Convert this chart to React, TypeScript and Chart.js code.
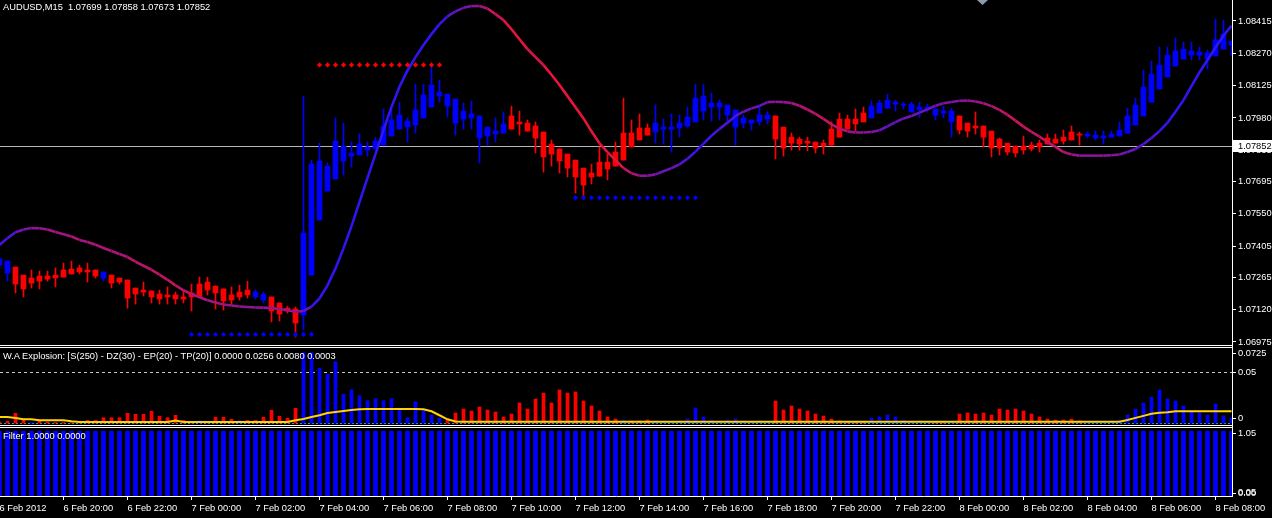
import React, { useEffect, useRef } from 'react';
import { Chart, registerables } from 'chart.js';

Chart.register(...registerables);

const FONT_FAMILY = '"Liberation Sans", Arial, sans-serif';
const FONT_SIZE = 9.3;

const symbolHeader = 'AUDUSD,M15  1.07699 1.07858 1.07673 1.07852';
const explosionHeader = 'W.A Explosion: [S(250) - DZ(30) - EP(20) - TP(20)] 0.0000 0.0256 0.0080 0.0003';
const filterHeader = 'Filter 1.0000 0.0000';

// ---- candles (bar 0 = 6 Feb 18:00, M15) ----
const openP = [
  1.07320, 1.07284, 1.07311, 1.07275, 1.07262, 1.07271, 1.07271, 1.07275, 1.07298, 1.07302,
  1.07307, 1.07298, 1.07298, 1.07262, 1.07275, 1.07262, 1.07253, 1.07217, 1.07208, 1.07204,
  1.07190, 1.07186, 1.07186, 1.07177, 1.07195, 1.07235, 1.07244, 1.07226, 1.07213, 1.07186,
  1.07199, 1.07208, 1.07177, 1.07163, 1.07177, 1.07150, 1.07127, 1.07123, 1.07096, 1.07275,
  1.07522, 1.07652, 1.07706, 1.07787, 1.07809, 1.07814, 1.07836, 1.07841, 1.07858, 1.07899,
  1.07930, 1.07939, 1.07948, 1.07980, 1.08029, 1.08078, 1.08033, 1.07957, 1.07975, 1.07980,
  1.07890, 1.07899, 1.07908, 1.07912, 1.07989, 1.07962, 1.07957, 1.07944, 1.07917, 1.07863,
  1.07841, 1.07818, 1.07791, 1.07755, 1.07733, 1.07782, 1.07782, 1.07827, 1.07912, 1.07912,
  1.07935, 1.07935, 1.07917, 1.07930, 1.07930, 1.07935, 1.07944, 1.07962, 1.08011, 1.08029,
  1.08029, 1.07993, 1.07939, 1.07957, 1.07957, 1.07962, 1.07975, 1.07989, 1.07939, 1.07894,
  1.07885, 1.07876, 1.07872, 1.07867, 1.07930, 1.07975, 1.07975, 1.07975, 1.08002, 1.07980,
  1.08002, 1.08024, 1.08042, 1.08038, 1.08007, 1.08016, 1.08024, 1.07993, 1.08002, 1.07962,
  1.07989, 1.07957, 1.07944, 1.07944, 1.07921, 1.07885, 1.07867, 1.07854, 1.07854, 1.07858,
  1.07867, 1.07890, 1.07885, 1.07894, 1.07917, 1.07908, 1.07899, 1.07890, 1.07890, 1.07894,
  1.07899, 1.07912, 1.07948, 1.07989, 1.08051, 1.08110, 1.08164, 1.08213, 1.08244, 1.08262,
  1.08262, 1.08244, 1.08258, 1.08289, 1.08307,
];
const highP = [
  1.07356, 1.07338, 1.07311, 1.07275, 1.07298, 1.07293, 1.07293, 1.07307, 1.07329, 1.07338,
  1.07320, 1.07329, 1.07298, 1.07289, 1.07275, 1.07262, 1.07253, 1.07217, 1.07244, 1.07204,
  1.07208, 1.07222, 1.07199, 1.07204, 1.07235, 1.07266, 1.07266, 1.07226, 1.07213, 1.07222,
  1.07230, 1.07248, 1.07208, 1.07199, 1.07177, 1.07150, 1.07136, 1.07132, 1.08078, 1.07791,
  1.07867, 1.07778, 1.07980, 1.07957, 1.07872, 1.07908, 1.07872, 1.07894, 1.08020, 1.08020,
  1.08051, 1.07980, 1.08132, 1.08132, 1.08217, 1.08150, 1.08087, 1.08065, 1.08047, 1.08056,
  1.07989, 1.07939, 1.07980, 1.08007, 1.08033, 1.08011, 1.07971, 1.07962, 1.07917, 1.07881,
  1.07841, 1.07818, 1.07791, 1.07755, 1.07773, 1.07850, 1.07818, 1.07872, 1.08069, 1.07971,
  1.07998, 1.07953, 1.08038, 1.07975, 1.07998, 1.07993, 1.08029, 1.08132, 1.08132, 1.08092,
  1.08060, 1.08038, 1.08016, 1.07993, 1.07971, 1.08029, 1.08007, 1.07989, 1.07939, 1.07912,
  1.07894, 1.07894, 1.07872, 1.07881, 1.07962, 1.08002, 1.07993, 1.08020, 1.08029, 1.08056,
  1.08060, 1.08087, 1.08060, 1.08051, 1.08051, 1.08051, 1.08042, 1.08020, 1.08033, 1.08024,
  1.07989, 1.07957, 1.08007, 1.07944, 1.07921, 1.07890, 1.07867, 1.07854, 1.07899, 1.07872,
  1.07881, 1.07908, 1.07908, 1.07926, 1.07944, 1.07917, 1.07917, 1.07921, 1.07921, 1.07921,
  1.07962, 1.08024, 1.08069, 1.08195, 1.08235, 1.08298, 1.08298, 1.08339, 1.08321, 1.08321,
  1.08298, 1.08285, 1.08424, 1.08419, 1.08325,
];
const lowP = [
  1.07307, 1.07248, 1.07195, 1.07177, 1.07217, 1.07213, 1.07248, 1.07222, 1.07266, 1.07280,
  1.07280, 1.07244, 1.07262, 1.07248, 1.07217, 1.07235, 1.07127, 1.07145, 1.07181, 1.07150,
  1.07145, 1.07145, 1.07145, 1.07150, 1.07114, 1.07177, 1.07186, 1.07123, 1.07118, 1.07141,
  1.07163, 1.07172, 1.07168, 1.07150, 1.07065, 1.07069, 1.07105, 1.06997, 1.07029, 1.07275,
  1.07522, 1.07652, 1.07706, 1.07724, 1.07760, 1.07814, 1.07809, 1.07841, 1.07858, 1.07899,
  1.07930, 1.07872, 1.07912, 1.07980, 1.08029, 1.08051, 1.07984, 1.07903, 1.07930, 1.07930,
  1.07778, 1.07858, 1.07872, 1.07912, 1.07930, 1.07903, 1.07921, 1.07823, 1.07737, 1.07764,
  1.07733, 1.07715, 1.07643, 1.07616, 1.07684, 1.07719, 1.07702, 1.07764, 1.07791, 1.07850,
  1.07881, 1.07903, 1.07867, 1.07863, 1.07827, 1.07894, 1.07939, 1.07962, 1.07971, 1.07966,
  1.07971, 1.07953, 1.07858, 1.07935, 1.07926, 1.07948, 1.07953, 1.07796, 1.07809, 1.07836,
  1.07836, 1.07832, 1.07823, 1.07818, 1.07858, 1.07894, 1.07930, 1.07921, 1.07962, 1.07980,
  1.08002, 1.08024, 1.08011, 1.08020, 1.08007, 1.07984, 1.08007, 1.07971, 1.07980, 1.07894,
  1.07908, 1.07894, 1.07908, 1.07850, 1.07805, 1.07814, 1.07814, 1.07805, 1.07818, 1.07832,
  1.07827, 1.07863, 1.07867, 1.07863, 1.07881, 1.07858, 1.07890, 1.07881, 1.07863, 1.07894,
  1.07899, 1.07912, 1.07948, 1.07989, 1.08051, 1.08110, 1.08164, 1.08213, 1.08244, 1.08240,
  1.08240, 1.08199, 1.08258, 1.08289, 1.08262,
];
const closeP = [
  1.07347, 1.07338, 1.07235, 1.07213, 1.07239, 1.07248, 1.07257, 1.07262, 1.07266, 1.07280,
  1.07289, 1.07289, 1.07271, 1.07289, 1.07239, 1.07244, 1.07172, 1.07190, 1.07199, 1.07177,
  1.07168, 1.07177, 1.07168, 1.07168, 1.07177, 1.07177, 1.07208, 1.07195, 1.07159, 1.07163,
  1.07177, 1.07186, 1.07199, 1.07190, 1.07114, 1.07100, 1.07114, 1.07060, 1.07464, 1.07773,
  1.07787, 1.07764, 1.07876, 1.07854, 1.07823, 1.07863, 1.07850, 1.07876, 1.07944, 1.07971,
  1.07993, 1.07966, 1.08016, 1.08083, 1.08128, 1.08096, 1.08087, 1.08065, 1.08011, 1.07998,
  1.07989, 1.07939, 1.07921, 1.07953, 1.07930, 1.07953, 1.07921, 1.07890, 1.07805, 1.07818,
  1.07787, 1.07755, 1.07715, 1.07679, 1.07715, 1.07719, 1.07751, 1.07764, 1.07791, 1.07850,
  1.07881, 1.07903, 1.07957, 1.07939, 1.07939, 1.07957, 1.07984, 1.08069, 1.08078, 1.08047,
  1.08047, 1.08038, 1.08016, 1.07980, 1.07971, 1.07993, 1.07993, 1.07885, 1.07845, 1.07867,
  1.07863, 1.07867, 1.07845, 1.07854, 1.07858, 1.07894, 1.07930, 1.07953, 1.07962, 1.08033,
  1.08047, 1.08060, 1.08051, 1.08042, 1.08042, 1.08029, 1.08029, 1.08020, 1.08011, 1.08011,
  1.07926, 1.07921, 1.07935, 1.07894, 1.07845, 1.07845, 1.07827, 1.07823, 1.07836, 1.07841,
  1.07850, 1.07863, 1.07867, 1.07876, 1.07881, 1.07903, 1.07908, 1.07903, 1.07899, 1.07908,
  1.07926, 1.07989, 1.08038, 1.08119, 1.08177, 1.08217, 1.08262, 1.08280, 1.08289, 1.08280,
  1.08276, 1.08271, 1.08330, 1.08356, 1.08325,
];
const candleColor = [
  'b','b','r','r','r','r','r','r','r','r',
  'r','r','r','b','r','r','r','r','r','r',
  'r','r','r','r','r','r','r','r','r','r',
  'r','r','b','b','r','r','r','r','b','b',
  'b','b','b','b','b','b','b','b','b','b',
  'b','b','b','b','b','b','b','b','b','b',
  'b','b','b','b','r','r','r','r','r','r',
  'r','r','r','r','r','r','r','r','r','r',
  'r','r','b','b','b','b','b','b','b','b',
  'b','b','b','b','b','b','b','r','r','r',
  'r','r','r','r','r','r','r','r','r','b',
  'b','b','b','b','b','b','b','b','b','b',
  'r','r','r','r','r','r','r','r','r','r',
  'r','r','r','r','r','r','b','b','b','b',
  'b','b','b','b','b','b','b','b','b','b',
  'b','b','b','b','b',
];
// smoothed trend curve drawn over the candles
const trendLine = [
  1.07410, 1.07441, 1.07467, 1.07480, 1.07486, 1.07485, 1.07480, 1.07468, 1.07458, 1.07448,
  1.07433, 1.07424, 1.07411, 1.07397, 1.07383, 1.07370, 1.07356, 1.07335, 1.07317, 1.07299,
  1.07277, 1.07254, 1.07229, 1.07207, 1.07190, 1.07176, 1.07162, 1.07152, 1.07143, 1.07139,
  1.07134, 1.07132, 1.07130, 1.07129, 1.07127, 1.07123, 1.07117, 1.07111, 1.07114, 1.07134,
  1.07170, 1.07229, 1.07305, 1.07395, 1.07495, 1.07603, 1.07711, 1.07818, 1.07926, 1.08029,
  1.08120, 1.08193, 1.08253, 1.08307, 1.08356, 1.08401, 1.08436, 1.08458, 1.08474, 1.08482,
  1.08482, 1.08471, 1.08446, 1.08419, 1.08378, 1.08333, 1.08289, 1.08253, 1.08217, 1.08174,
  1.08128, 1.08078, 1.08028, 1.07978, 1.07920, 1.07866, 1.07827, 1.07791, 1.07755, 1.07732,
  1.07721, 1.07721, 1.07727, 1.07741, 1.07755, 1.07772, 1.07797, 1.07829, 1.07865, 1.07900,
  1.07931, 1.07959, 1.07989, 1.08008, 1.08023, 1.08034, 1.08051, 1.08053, 1.08051, 1.08047,
  1.08035, 1.08018, 1.07998, 1.07976, 1.07951, 1.07932, 1.07920, 1.07915, 1.07915, 1.07917,
  1.07925, 1.07942, 1.07961, 1.07978, 1.07989, 1.08004, 1.08019, 1.08035, 1.08046, 1.08052,
  1.08057, 1.08058, 1.08054, 1.08046, 1.08033, 1.08016, 1.07994, 1.07968, 1.07941, 1.07918,
  1.07896, 1.07872, 1.07850, 1.07827, 1.07816, 1.07811, 1.07811, 1.07811, 1.07811, 1.07813,
  1.07816, 1.07827, 1.07841, 1.07863, 1.07890, 1.07921, 1.07959, 1.08008, 1.08060, 1.08123,
  1.08185, 1.08240, 1.08296, 1.08350, 1.08393,
];

const priceTicks = [1.08415, 1.08270, 1.08125, 1.07980, 1.07835, 1.07695, 1.07550, 1.07405, 1.07265, 1.07120, 1.06975];
const currentPrice = 1.07852;

const resistanceLevel = 1.08218;
const resistanceBars = [40, 41, 42, 43, 44, 45, 46, 47, 48, 49, 50, 51, 52, 53, 54, 55];
const supportLevelA = 1.07009;
const supportBarsA = [24, 25, 26, 27, 28, 29, 30, 31, 32, 33, 34, 35, 36, 37, 38, 39];
const supportLevelB = 1.07622;
const supportBarsB = [72, 73, 74, 75, 76, 77, 78, 79, 80, 81, 82, 83, 84, 85, 86, 87];

// ---- W.A Explosion ----
const explosionHist = [
  0.0010, 0.0017, 0.0095, 0.0026, 0.0005, 0.0020, 0.0010, 0.0005, 0.0005, 0.0003,
  0.0005, 0.0026, 0.0026, 0.0052, 0.0052, 0.0052, 0.0095, 0.0085, 0.0085, 0.0115,
  0.0066, 0.0052, 0.0075, 0.0026, 0.0010, 0.0026, 0.0005, 0.0056, 0.0056, 0.0036,
  0.0026, 0.0026, 0.0026, 0.0056, 0.0125, 0.0066, 0.0046, 0.0144, 0.0690, 0.0690,
  0.0536, 0.0477, 0.0601, 0.0281, 0.0326, 0.0268, 0.0219, 0.0238, 0.0219, 0.0238,
  0.0147, 0.0052, 0.0209, 0.0118, 0.0078, 0.0049, 0.0029, 0.0098, 0.0137, 0.0118,
  0.0157, 0.0127, 0.0108, 0.0059, 0.0088, 0.0196, 0.0137, 0.0235, 0.0294, 0.0196,
  0.0324, 0.0294, 0.0304, 0.0216, 0.0167, 0.0118, 0.0059, 0.0039, 0.0029, 0.0020,
  0.0020, 0.0029, 0.0020, 0.0010, 0.0010, 0.0020, 0.0039, 0.0147, 0.0059, 0.0029,
  0.0020, 0.0029, 0.0039, 0.0020, 0.0010, 0.0020, 0.0010, 0.0216, 0.0127, 0.0167,
  0.0137, 0.0118, 0.0088, 0.0069, 0.0039, 0.0020, 0.0010, 0.0010, 0.0010, 0.0049,
  0.0059, 0.0078, 0.0059, 0.0029, 0.0020, 0.0020, 0.0010, 0.0010, 0.0010, 0.0010,
  0.0088, 0.0098, 0.0088, 0.0098, 0.0078, 0.0137, 0.0127, 0.0137, 0.0118, 0.0088,
  0.0059, 0.0039, 0.0029, 0.0029, 0.0039, 0.0020, 0.0010, 0.0010, 0.0010, 0.0020,
  0.0029, 0.0078, 0.0137, 0.0196, 0.0255, 0.0324, 0.0235, 0.0216, 0.0167, 0.0118,
  0.0098, 0.0078, 0.0186, 0.0069, 0.0049,
];
const explosionColor = [
  'r','r','r','r','b','r','r','r','r','r',
  'r','r','r','r','r','r','r','r','r','r',
  'r','r','r','r','r','b','r','r','r','r',
  'b','r','r','r','r','r','r','r','b','b',
  'b','b','b','b','b','b','b','b','b','b',
  'b','b','b','b','b','b','r','r','r','r',
  'r','r','r','r','r','r','r','r','r','r',
  'r','r','r','r','r','r','r','r','b','r',
  'r','r','b','b','b','b','b','b','b','b',
  'b','b','b','b','b','b','b','r','r','r',
  'r','r','r','r','r','r','r','r','r','b',
  'b','b','b','b','b','b','b','r','r','b',
  'r','r','r','r','r','r','r','r','r','r',
  'r','r','r','r','r','r','b','b','b','b',
  'b','b','b','b','b','b','b','b','b','b',
  'b','b','b','b','b',
];
const explosionLine = [
  0.0059, 0.0059, 0.0049, 0.0036, 0.0036, 0.0027, 0.0027, 0.0027, 0.0027, 0.0017,
  0.0010, 0.0010, 0.0010, 0.0010, 0.0010, 0.0010, 0.0010, 0.0010, 0.0010, 0.0010,
  0.0010, 0.0010, 0.0024, 0.0010, 0.0010, 0.0010, 0.0010, 0.0010, 0.0010, 0.0010,
  0.0010, 0.0010, 0.0010, 0.0010, 0.0010, 0.0010, 0.0010, 0.0027, 0.0039, 0.0059,
  0.0076, 0.0098, 0.0108, 0.0118, 0.0128, 0.0134, 0.0137, 0.0137, 0.0137, 0.0137,
  0.0137, 0.0137, 0.0137, 0.0135, 0.0115, 0.0076, 0.0036, 0.0015, 0.0012, 0.0012,
  0.0012, 0.0012, 0.0012, 0.0012, 0.0012, 0.0012, 0.0012, 0.0012, 0.0012, 0.0012,
  0.0012, 0.0012, 0.0012, 0.0012, 0.0012, 0.0012, 0.0012, 0.0012, 0.0012, 0.0012,
  0.0012, 0.0012, 0.0012, 0.0012, 0.0012, 0.0012, 0.0012, 0.0012, 0.0012, 0.0012,
  0.0012, 0.0012, 0.0012, 0.0012, 0.0012, 0.0012, 0.0012, 0.0012, 0.0012, 0.0012,
  0.0012, 0.0012, 0.0012, 0.0012, 0.0012, 0.0012, 0.0012, 0.0012, 0.0012, 0.0012,
  0.0012, 0.0012, 0.0012, 0.0012, 0.0012, 0.0012, 0.0012, 0.0012, 0.0012, 0.0012,
  0.0012, 0.0012, 0.0012, 0.0012, 0.0012, 0.0012, 0.0012, 0.0012, 0.0012, 0.0012,
  0.0012, 0.0012, 0.0012, 0.0012, 0.0012, 0.0012, 0.0012, 0.0012, 0.0012, 0.0012,
  0.0012, 0.0030, 0.0050, 0.0070, 0.0090, 0.0100, 0.0105, 0.0115, 0.0115, 0.0115,
  0.0115, 0.0115, 0.0115, 0.0115, 0.0115,
];
const explosionLevel = 0.05;
const deadZoneLevel = 0.0003;
const explosionTicks = [0.0725, 0.05, 0];
const explosionTickLabels = ['0.0725', '0.05', '0'];

// ---- Filter ----
const filterValues = [
  1, 1, 1, 1, 1, 1, 1, 1, 1, 1, 1, 1, 1, 1, 1, 1, 1, 1, 1, 1,
  1, 1, 1, 1, 1, 1, 1, 1, 1, 1, 1, 1, 1, 1, 1, 1, 1, 1, 1, 1,
  1, 1, 1, 1, 1, 1, 1, 1, 1, 1, 1, 1, 1, 1, 1, 1, 1, 1, 1, 1,
  1, 1, 1, 1, 1, 1, 1, 1, 1, 1, 1, 1, 1, 1, 1, 1, 1, 1, 1, 1,
  1, 1, 1, 1, 1, 1, 1, 1, 1, 1, 1, 1, 1, 1, 1, 1, 1, 1, 1, 1,
  1, 1, 1, 1, 1, 1, 1, 1, 1, 1, 1, 1, 1, 1, 1, 1, 1, 1, 1, 1,
  1, 1, 1, 1, 1, 1, 1, 1, 1, 1, 1, 1, 1, 1, 1, 1, 1, 1, 1, 1,
  1, 1, 1, 1, 1, 1, 1, 1, 1, 1, 1, 1, 1, 1, 1,
];
const filterTicks = [1.05, 0.05, 0];
const filterTickLabels = ['1.05', '0.05', '0.00'];

// ---- time axis ----
const timeLabels = [
  '6 Feb 2012', '6 Feb 20:00', '6 Feb 22:00', '7 Feb 00:00', '7 Feb 02:00', '7 Feb 04:00',
  '7 Feb 06:00', '7 Feb 08:00', '7 Feb 10:00', '7 Feb 12:00', '7 Feb 14:00', '7 Feb 16:00',
  '7 Feb 18:00', '7 Feb 20:00', '7 Feb 22:00', '8 Feb 00:00', '8 Feb 02:00', '8 Feb 04:00',
  '8 Feb 06:00', '8 Feb 08:00',
];
const timeLabelBars = [0, 8, 16, 24, 32, 40, 48, 56, 64, 72, 80, 88, 96, 104, 112, 120, 128, 136, 144, 152];

// ---- layout constants ----
const W = 1272;
const AXIS_W = 40;
const X_MIN = 0.0625;
const X_MAX = 154.0625;
const MAIN_H = 345;
const MAIN_Y_MIN = 1.069615;
const MAIN_Y_MAX = 1.085092;
const IND_TOP = 348;
const IND_H = 77;
const IND_MIN = -0.00196;
const IND_MAX = 0.07353;
const FIL_TOP = 428;
const FIL_H = 90;
const XAXIS_H = 22;

const RED = '#ff0000';
const BLUE = '#0000ff';
const colorOf = (c: string) => (c === 'r' ? RED : BLUE);
const fontStr = `${FONT_SIZE}px ${FONT_FAMILY}`;

const FALL = [232, 20, 60];
const RISE = [48, 20, 242];
const slopeColor = (ctx: any) => {
  const d = ctx.p1.parsed.y - ctx.p0.parsed.y;
  const t = Math.max(0, Math.min(1, 0.5 + d / 0.0008));
  const c = FALL.map((f, j) => Math.round(f + (RISE[j] - f) * t));
  return `rgb(${c[0]},${c[1]},${c[2]})`;
};

const noPad = (s: any) => {
  s.paddingTop = 0;
  s.paddingBottom = 0;
  s.paddingLeft = 0;
  s.paddingRight = 0;
};

const hiddenX = {
  type: 'linear' as const,
  min: X_MIN,
  max: X_MAX,
  display: false,
  offset: false,
  grid: { offset: false },
};

const rightAxis = (min: number, max: number) => ({
  type: 'linear' as const,
  position: 'right' as const,
  min,
  max,
  beginAtZero: false,
  afterFit: (s: any) => { s.width = AXIS_W; noPad(s); },
  ticks: { display: false },
  grid: { display: false, drawOnChartArea: false },
  border: { display: true, color: '#ffffff', width: 1 },
});

const axisLabelPlugin = (values: number[], labels: string[], topPad: number, botPad: number) => ({
  id: 'axisLabelPlugin',
  afterDraw(chart: any) {
    const { ctx, chartArea, scales } = chart;
    const y = scales.y;
    ctx.save();
    ctx.font = fontStr;
    ctx.fillStyle = '#ffffff';
    ctx.textBaseline = 'middle';
    ctx.textAlign = 'left';
    values.forEach((v, i) => {
      const raw = y.getPixelForValue(v);
      const p = Math.min(Math.max(raw, chartArea.top + topPad), chartArea.bottom - botPad);
      ctx.fillRect(chartArea.right, Math.round(p), 4, 1);
      ctx.fillText(labels[i], chartArea.right + 6, p);
    });
    ctx.restore();
  },
});

export default function App() {
  const mainRef = useRef<HTMLCanvasElement>(null);
  const indRef = useRef<HTMLCanvasElement>(null);
  const filRef = useRef<HTMLCanvasElement>(null);

  useEffect(() => {
    Chart.defaults.font.family = FONT_FAMILY;
    Chart.defaults.font.size = FONT_SIZE;
    const common = {
      responsive: false,
      animation: false as const,
      devicePixelRatio: 1,
      layout: { padding: 0, autoPadding: false },
      events: [],
      plugins: { legend: { display: false }, tooltip: { enabled: false }, title: { display: false } },
    };

    const mainOverlay = {
      id: 'mainOverlay',
      beforeDatasetsDraw(chart: any) {
        const { ctx, chartArea, scales } = chart;
        const py = Math.round(scales.y.getPixelForValue(currentPrice)) + 0.5;
        ctx.save();
        ctx.strokeStyle = '#b4b4c0';
        ctx.lineWidth = 1;
        ctx.beginPath();
        ctx.moveTo(chartArea.left, py);
        ctx.lineTo(chartArea.right, py);
        ctx.stroke();
        ctx.restore();
      },
      afterDraw(chart: any) {
        const { ctx, chartArea, scales } = chart;
        const py = scales.y.getPixelForValue(currentPrice);
        ctx.save();
        ctx.fillStyle = '#ffffff';
        ctx.fillRect(chartArea.right + 1, Math.round(py) - 6, AXIS_W - 1, 12);
        ctx.fillStyle = '#000000';
        ctx.font = fontStr;
        ctx.textBaseline = 'middle';
        ctx.textAlign = 'left';
        ctx.fillText(currentPrice.toFixed(5), chartArea.right + 6, Math.round(py) + 0.5);
        ctx.fillStyle = '#8c9cac';
        ctx.beginPath();
        ctx.moveTo(977, 0);
        ctx.lineTo(988, 0);
        ctx.lineTo(982.5, 5);
        ctx.closePath();
        ctx.fill();
        ctx.restore();
      },
    };

    const dots = (bars: number[], level: number, color: string) => ({
      type: 'line' as const,
      data: bars.map((i) => ({ x: i, y: level })),
      showLine: false,
      pointStyle: 'rectRot',
      pointRadius: 2.6,
      pointHoverRadius: 2.6,
      pointBackgroundColor: color,
      pointBorderWidth: 0,
      order: 0,
    });

    const mainChart = new Chart(mainRef.current as HTMLCanvasElement, {
      type: 'bar',
      data: {
        datasets: [
          {
            type: 'line',
            data: trendLine.map((y, i) => ({ x: i, y })),
            borderWidth: 2.6,
            pointRadius: 0,
            pointHoverRadius: 0,
            borderColor: '#8020a0',
            segment: { borderColor: slopeColor },
            order: 1,
          } as any,
          {
            type: 'bar',
            data: lowP.map((l, i) => ({ x: i, y: [l, highP[i]] })),
            backgroundColor: candleColor.map(colorOf),
            barThickness: 1,
            grouped: false,
            order: 3,
          } as any,
          {
            type: 'bar',
            data: openP.map((o, i) => ({ x: i, y: [o, closeP[i]] })),
            backgroundColor: candleColor.map(colorOf),
            barThickness: 5,
            minBarLength: 1,
            grouped: false,
            order: 2,
          } as any,
          dots(resistanceBars, resistanceLevel, RED) as any,
          dots(supportBarsA, supportLevelA, BLUE) as any,
          dots(supportBarsB, supportLevelB, BLUE) as any,
        ],
      },
      options: {
        ...common,
        scales: {
          x: hiddenX,
          y: {
            type: 'linear',
            position: 'right',
            min: MAIN_Y_MIN,
            max: MAIN_Y_MAX,
            beginAtZero: false,
            afterFit: (s: any) => { s.width = AXIS_W; noPad(s); },
            afterBuildTicks: (s: any) => { s.ticks = priceTicks.map((v) => ({ value: v })); },
            ticks: {
              autoSkip: false,
              color: '#ffffff',
              padding: 2,
              font: { family: FONT_FAMILY, size: FONT_SIZE },
              callback: (v: any) => Number(v).toFixed(5),
            },
            grid: { drawOnChartArea: false, drawTicks: true, tickLength: 4, color: '#ffffff' },
            border: { display: true, color: '#ffffff', width: 1 },
          },
        },
      } as any,
      plugins: [mainOverlay],
    });

    const indLevels = {
      id: 'indLevels',
      beforeDatasetsDraw(chart: any) {
        const { ctx, chartArea, scales } = chart;
        ctx.save();
        ctx.lineWidth = 1;
        const p1 = Math.round(scales.y.getPixelForValue(explosionLevel)) + 0.5;
        ctx.strokeStyle = '#c8c8c8';
        ctx.setLineDash([3, 3]);
        ctx.beginPath();
        ctx.moveTo(chartArea.left, p1);
        ctx.lineTo(chartArea.right, p1);
        ctx.stroke();
        const p2 = Math.round(scales.y.getPixelForValue(deadZoneLevel)) + 0.5;
        ctx.strokeStyle = '#1aa8a8';
        ctx.setLineDash([2, 2]);
        ctx.beginPath();
        ctx.moveTo(chartArea.left, p2);
        ctx.lineTo(chartArea.right, p2);
        ctx.stroke();
        ctx.restore();
      },
    };

    const indChart = new Chart(indRef.current as HTMLCanvasElement, {
      type: 'bar',
      data: {
        datasets: [
          {
            type: 'bar',
            data: explosionHist.map((v, i) => ({ x: i, y: v })),
            backgroundColor: explosionColor.map(colorOf),
            barThickness: 3,
            grouped: false,
            order: 2,
          } as any,
          {
            type: 'line',
            data: explosionLine.map((v, i) => ({ x: i, y: v })),
            borderColor: '#ffd400',
            borderWidth: 2,
            pointRadius: 0,
            pointHoverRadius: 0,
            order: 1,
          } as any,
        ],
      },
      options: {
        ...common,
        scales: { x: hiddenX, y: rightAxis(IND_MIN, IND_MAX) },
      } as any,
      plugins: [indLevels, axisLabelPlugin(explosionTicks, explosionTickLabels, 5, 7)],
    });

    const labelMap = new Map<number, string>();
    timeLabelBars.forEach((b, i) => labelMap.set(b, timeLabels[i]));

    const filChart = new Chart(filRef.current as HTMLCanvasElement, {
      type: 'bar',
      data: {
        datasets: [
          {
            type: 'bar',
            data: filterValues.map((v, i) => ({ x: i, y: v })),
            backgroundColor: BLUE,
            barThickness: 4,
            grouped: false,
          } as any,
        ],
      },
      options: {
        ...common,
        scales: {
          x: {
            type: 'linear',
            position: 'bottom',
            min: X_MIN,
            max: X_MAX,
            offset: false,
            afterFit: (s: any) => { s.height = XAXIS_H; noPad(s); },
            afterBuildTicks: (s: any) => { s.ticks = timeLabelBars.map((v) => ({ value: v })); },
            ticks: {
              autoSkip: false,
              maxRotation: 0,
              minRotation: 0,
              align: 'start',
              color: '#ffffff',
              padding: 3,
              font: { family: FONT_FAMILY, size: FONT_SIZE },
              callback: (v: any) => labelMap.get(Number(v)) ?? '',
            },
            grid: { drawOnChartArea: false, drawTicks: true, tickLength: 4, color: '#ffffff', offset: false },
            border: { display: true, color: '#ffffff', width: 1 },
          },
          y: rightAxis(0, 1.05),
        },
      } as any,
      plugins: [axisLabelPlugin(filterTicks, filterTickLabels, 5, 3)],
    });

    return () => {
      mainChart.destroy();
      indChart.destroy();
      filChart.destroy();
    };
  }, []);

  const textStyle: React.CSSProperties = {
    position: 'absolute',
    left: 3,
    color: '#ffffff',
    font: fontStr,
    lineHeight: '12px',
    whiteSpace: 'pre',
    pointerEvents: 'none',
  };
  const hLine = (top: number): React.CSSProperties => ({
    position: 'absolute', left: 0, top, width: W - AXIS_W + 1, height: 1, background: '#ffffff',
  });

  return (
    <div style={{ position: 'relative', width: W, height: 518, background: '#000000', overflow: 'hidden' }}>
      <style>{'body{margin:0;background:#000;}'}</style>
      <div style={{ position: 'absolute', left: W - AXIS_W, top: 0, width: 1, height: 497, background: '#ffffff' }} />
      <canvas ref={mainRef} width={W} height={MAIN_H} style={{ position: 'absolute', left: 0, top: 0, width: W, height: MAIN_H }} />
      <div style={hLine(345)} />
      <div style={hLine(347)} />
      <canvas ref={indRef} width={W} height={IND_H} style={{ position: 'absolute', left: 0, top: IND_TOP, width: W, height: IND_H }} />
      <div style={hLine(425)} />
      <div style={hLine(427)} />
      <canvas ref={filRef} width={W} height={FIL_H} style={{ position: 'absolute', left: 0, top: FIL_TOP, width: W, height: FIL_H }} />
      <div style={{ ...textStyle, top: 1 }}>{symbolHeader}</div>
      <div style={{ ...textStyle, top: 350 }}>{explosionHeader}</div>
      <div style={{ ...textStyle, top: 430 }}>{filterHeader}</div>
    </div>
  );
}
